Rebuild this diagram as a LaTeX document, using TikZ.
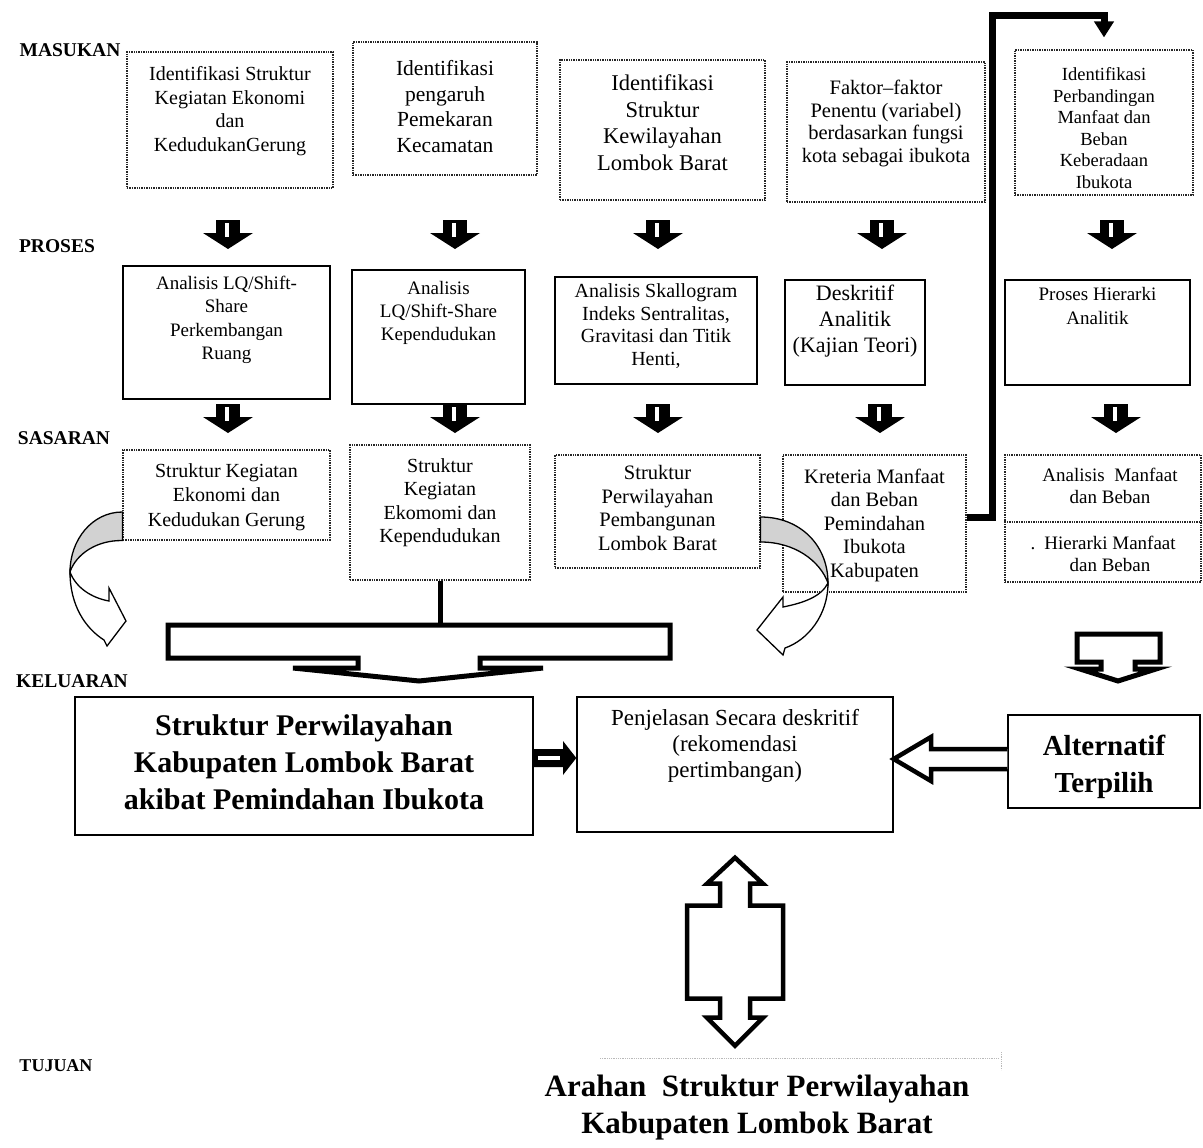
\documentclass[tikz,border=0pt]{standalone}
\usepackage{fontspec}
\setmainfont{Liberation Serif}
\usetikzlibrary{arrows.meta}
\newcommand{\fs}[2]{\fontsize{#1}{#2}\selectfont}

\tikzset{
  dotbox/.style={draw=black!85, dash pattern=on 1.4pt off 1pt, line width=1.1pt, inner sep=0pt},
  linebox/.style={draw, line width=1.6pt, inner sep=0pt},
  txt/.style={align=center, inner sep=0pt},
  rowlab/.style={inner sep=0pt, font=\fs{19.5}{22}\bfseries},
  hollow/.style={draw, fill=white, line width=4.5pt},
  curl/.style={draw, line width=1.3pt},
  fatdown/.pic={
    \fill (-12,0) rectangle (12,14);
    \fill (-25,13) -- (25,13) -- (0,29) -- cycle;
    \fill[white] (-3,3) rectangle (1,17);
  }
}

\begin{document}
\begin{tikzpicture}[x=1pt,y=-1pt]
\useasboundingbox (0,0) rectangle (1203,1148);

\node[rowlab] (lmas) at (70,50) {MASUKAN};
\node[rowlab] (lpro) at (57,246) {PROSES};
\node[rowlab] (lsas) at (64,438) {SASARAN};
\node[rowlab] (lkel) at (72,681) {KELUARAN};
\node[rowlab, font=\fs{18}{20}\bfseries] (ltuj) at (56,1066) {TUJUAN};

\node[dotbox, minimum width=206, minimum height=136] (b1) at (230,120) {};
\node[dotbox, minimum width=184, minimum height=133] (b2) at (445,108.5) {};
\node[dotbox, minimum width=205, minimum height=140] (b3) at (662.5,130) {};
\node[dotbox, minimum width=198, minimum height=140] (b4) at (886,132) {};
\node[dotbox, minimum width=178, minimum height=145] (b5) at (1104,122.5) {};

\node[txt, font=\fs{20}{23.5}] (b1t) at (230,111) {Identifikasi Struktur\\Kegiatan Ekonomi\\dan\\KedudukanGerung};
\node[txt, font=\fs{21.5}{25.5}] (b2t) at (445,106.5) {Identifikasi\\pengaruh\\Pemekaran\\Kecamatan};
\node[txt, font=\fs{22.5}{26.5}] (b3t) at (662.5,122.5) {Identifikasi\\Struktur\\Kewilayahan\\Lombok Barat};
\node[txt, font=\fs{20.5}{22.5}] (b4t) at (886,123.5) {Faktor--faktor\\Penentu (variabel)\\berdasarkan fungsi\\kota sebagai ibukota};
\node[txt, font=\fs{18.5}{21.5}] (b5t) at (1104,128) {Identifikasi\\Perbandingan\\Manfaat dan\\Beban\\Keberadaan\\Ibukota};

\pic at (228,220) {fatdown};
\pic at (455,220) {fatdown};
\pic at (658,220) {fatdown};
\pic at (882,220) {fatdown};
\pic at (1112,220) {fatdown};

\node[linebox, minimum width=207, minimum height=133] (p1) at (226.5,332.5) {};
\node[linebox, minimum width=173, minimum height=134] (p2) at (438.5,337) {};
\node[linebox, minimum width=202, minimum height=107] (p3) at (656,330.5) {};
\node[linebox, minimum width=140, minimum height=105] (p4) at (855,332.5) {};
\node[linebox, minimum width=185, minimum height=105] (p5) at (1097.5,332.5) {};

\node[txt, font=\fs{19}{23.5}] (p1t) at (226.5,320) {Analisis LQ/Shift-\\Share\\Perkembangan\\Ruang};
\node[txt, font=\fs{19}{23}] (p2t) at (438.5,312.5) {Analisis\\LQ/Shift-Share\\Kependudukan};
\node[txt, font=\fs{20}{22.5}] (p3t) at (656,326) {Analisis Skallogram\\Indeks Sentralitas,\\Gravitasi dan Titik\\Henti,};
\node[txt, font=\fs{22}{26}] (p4t) at (855,321.5) {Deskritif\\Analitik\\(Kajian Teori)};
\node[txt, font=\fs{19}{24}] (p5t) at (1097.5,305.5) {Proses Hierarki\\Analitik};

\pic at (228,404) {fatdown};
\pic at (455,404) {fatdown};
\pic at (658,404) {fatdown};
\pic at (880,404) {fatdown};
\pic at (1116,404) {fatdown};

\node[dotbox, minimum width=207, minimum height=90] (s1) at (226.5,495) {};
\node[dotbox, minimum width=180, minimum height=135] (s2) at (440,512.5) {};
\node[dotbox, minimum width=205, minimum height=113] (s3) at (657.5,511.5) {};
\node[dotbox, minimum width=183, minimum height=137] (s4) at (874.5,523.5) {};
\node[dotbox, minimum width=196, minimum height=127] (s5) at (1103,518.5) {};
\draw[dotbox] (s5.west |- 0,522) -- (s5.east |- 0,522);

\node[txt, font=\fs{20}{24.5}] (s1t) at (226.5,497) {Struktur Kegiatan\\Ekonomi dan\\Kedudukan Gerung};
\node[txt, font=\fs{20}{23.5}] (s2t) at (440,502.5) {Struktur\\Kegiatan\\Ekomomi dan\\Kependudukan};
\node[txt, font=\fs{20.5}{23.5}] (s3t) at (657.5,508) {Struktur\\Perwilayahan\\Pembangunan\\Lombok Barat};
\node[txt, font=\fs{20.5}{23.5}] (s4t) at (874.5,525) {Kreteria Manfaat\\dan Beban\\Pemindahan\\Ibukota\\Kabupaten};
\node[txt, font=\fs{19}{22}] (s5a) at (1110,486) {Analisis\ \ Manfaat\\dan Beban};
\node[txt, font=\fs{19}{22}] (s5b) at (1110,554) {\llap{.\hspace{9pt}}Hierarki Manfaat\\dan Beban};

\draw[curl, fill=gray!35] (s1.west |- 0,512) .. controls (92,512) and (70,540) .. (70,572) .. controls (76,554) and (97,540) .. (s1.south west) -- cycle;
\draw[curl, fill=white] (70,572) .. controls (70,605) and (85,628) .. (104,640) -- (107,646) -- (126,621) -- (109,588) -- (109,601) .. controls (92,598) and (76,588) .. (70,572) -- cycle;

\draw[curl, fill=gray!35] (s3.east |- 0,517) .. controls (800,517) and (828,545) .. (828,583) .. controls (820,561) and (795,542) .. (s3.east |- 0,542) -- cycle;
\draw[curl, fill=white] (828,583) .. controls (828,615) and (808,640) .. (785,648) -- (783,655) -- (757,630) -- (783,597) -- (783,607) .. controls (803,603) and (821,597) .. (828,583) -- cycle;

\coordinate (bend) at (992,16);
\draw[line width=7pt, -{Triangle[length=16pt,width=19pt]}] (s4.east |- 0,517) -- (bend |- 0,517) -- (bend) -| ([yshift=12pt]b5.north);

\coordinate (mtop) at (s2.south |- 0,625);
\draw[line width=5pt] (s2.south) -- (mtop);
\draw[hollow, line width=5pt] (168,625) -- (670,625) -- (670,658) -- (480,658) -- (480,668) -- (543,668) -- (419,681) -- (293,668) -- (358,668) -- (358,658) -- (168,658) -- cycle;

\draw[hollow, line width=5pt] (1077,634) -- (1160,634) -- (1160,662) -- (1135,662) -- (1135,669) -- (1156,669) -- (1118,681) -- (1080,669) -- (1101,669) -- (1101,662) -- (1077,662) -- cycle;

\node[linebox, line width=1.4pt, minimum width=458, minimum height=138] (k1) at (304,766) {};
\node[linebox, line width=1.4pt, minimum width=316, minimum height=135] (k2) at (735,764.5) {};
\node[linebox, line width=1.4pt, minimum width=192, minimum height=93] (k3) at (1104,761.5) {};

\node[txt, font=\fs{30}{37}\bfseries] (k1t) at (304,762.5) {Struktur Perwilayahan\\Kabupaten Lombok Barat\\akibat Pemindahan Ibukota};
\node[txt, font=\fs{23}{26}] (k2t) at (735,746) {Penjelasan Secara deskritif\\(rekomendasi\\pertimbangan)};
\node[txt, font=\fs{29}{37}\bfseries] (k3t) at (1104,766.5) {Alternatif\\Terpilih};

\fill (k1.east |- 0,749) -- (563,749) -- (563,741) -- (k2.west |- 0,758) -- (563,775) -- (563,767) -- (k1.east |- 0,767) -- cycle;
\fill[white] (538,756) rectangle (560,760);

\draw[hollow] (k3.west |- 0,749) -- (931,749) -- (931,737) -- (k2.east |- 0,759) -- (931,781) -- (931,769) -- (k3.west |- 0,769);

\node[txt, font=\fs{31}{37}\bfseries] (tj) at (757,1108) {Arahan\ \ Struktur Perwilayahan\\Kabupaten Lombok Barat};
\draw[gray!55, densely dotted, line width=0.8pt] (600,1058) -- (998,1058);
\draw[gray!55, densely dotted, line width=0.8pt] (1001,1052) -- (1001,1070);

\begin{scope}[shift={(k2.south)}]
\draw[hollow] (0,25) -- (28,51) -- (15,51) -- (15,73) -- (48,73) -- (48,166) -- (15,166) -- (15,185) -- (28,185) -- (0,213) -- (-28,185) -- (-15,185) -- (-15,166) -- (-48,166) -- (-48,73) -- (-15,73) -- (-15,51) -- (-28,51) -- cycle;
\end{scope}
\end{tikzpicture}
\end{document}
